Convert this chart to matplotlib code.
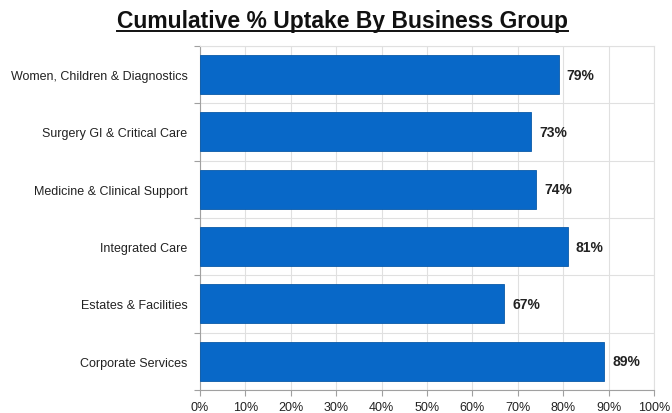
import matplotlib
matplotlib.use("Agg")
import matplotlib.pyplot as plt
from matplotlib.lines import Line2D
from matplotlib.ticker import FuncFormatter, FixedLocator
import numpy as np

plt.rcParams['font.family'] = ['Liberation Sans', 'DejaVu Sans']

groups = ["Women, Children & Diagnostics", "Surgery GI & Critical Care",
          "Medicine & Clinical Support", "Integrated Care",
          "Estates & Facilities", "Corporate Services"]
uptake = [79, 73, 74, 81, 67, 89]
x_ticks = [0, 10, 20, 30, 40, 50, 60, 70, 80, 90, 100]

fig = plt.figure(figsize=(6.72, 4.14), dpi=100)
ax = fig.add_axes([0.2976, 0.0556, 0.6756, 0.8309])

y = np.arange(len(groups))[::-1]
ax.barh(y, uptake, height=0.68, color="#0868c8", edgecolor="#0a5aa8", linewidth=0.6, zorder=3)

for yi, v in zip(y, uptake):
    ax.text(v + 1.8, yi, f"{v}%", va="center", ha="left", fontsize=10,
            fontweight="bold", color="#222222")

ax.set_xlim(0, 100)
ax.set_ylim(-0.5, len(groups) - 0.5)
ax.xaxis.set_major_locator(FixedLocator(x_ticks))
ax.xaxis.set_major_formatter(FuncFormatter(lambda v, p: f"{int(v)}%"))
ax.set_yticks(y)
ax.set_yticklabels(groups, fontsize=9, color="#222222")
ax.yaxis.set_minor_locator(FixedLocator(np.arange(-0.5, len(groups), 1.0)))
ax.tick_params(axis="y", which="major", length=0, pad=9)
ax.tick_params(axis="y", which="minor", length=4, color="#a0a0a0", width=0.8)
ax.tick_params(axis="x", which="major", length=4, color="#a0a0a0", width=0.8,
               labelsize=9, labelcolor="#222222", pad=4)

ax.grid(True, axis="x", which="major", color="#e0e0e0", linewidth=0.8, zorder=0)
ax.grid(True, axis="y", which="minor", color="#e0e0e0", linewidth=0.8, zorder=0)
ax.set_axisbelow(True)

for side in ("top", "right"):
    ax.spines[side].set_color("#e0e0e0")
    ax.spines[side].set_linewidth(0.8)
for side in ("left", "bottom"):
    ax.spines[side].set_color("#a0a0a0")
    ax.spines[side].set_linewidth(0.8)

title = fig.text(0.509, 0.947, "Cumulative % Uptake By Business Group",
                 ha="center", va="center", fontsize=16.5, fontweight="bold", color="#111111")

fig.canvas.draw()
bb = title.get_window_extent(renderer=fig.canvas.get_renderer())
inv = fig.transFigure.inverted()
(x0, y0), (x1, y1) = inv.transform([[bb.x0, bb.y0], [bb.x1, bb.y1]])
fig.add_artist(Line2D([x0, x1], [y0 + 0.004, y0 + 0.004], transform=fig.transFigure,
                      color="#111111", linewidth=1.4))

fig.savefig("out.png", dpi=100)
